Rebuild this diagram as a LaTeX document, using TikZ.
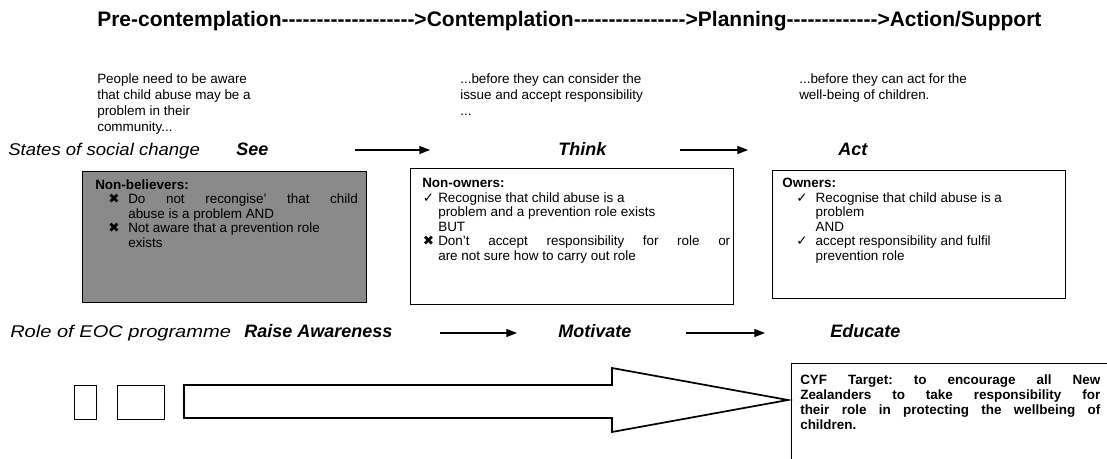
\documentclass[tikz,border=0pt]{standalone}
\usepackage{fontspec}
\setmainfont{Liberation Sans}
\newfontfamily\symfont{DejaVu Sans}
\usetikzlibrary{arrows.meta}
\frenchspacing
\definecolor{boxgray}{RGB}{138,138,138}
\newcommand\hy{\hbox{-}}
\newcount\hycnt
\newcommand\hys[1]{\hycnt=#1\relax\loop\hy\advance\hycnt by -1 \ifnum\hycnt>0 \repeat}
\newcommand\nl{\hfil\break}
\newcommand\bul[4]{\par\hangindent=#2\hangafter=1\noindent\hbox to #2{\hspace{#3}{\symfont#1}\hfil}#4\par}
\newcommand\crossmark{\char"2716}
\newcommand\tickmark{\char"2713}
\newcommand\wide[2]{\scalebox{#1}[1]{#2}}
\tikzset{
  titletext/.style={anchor=base west, inner sep=0pt, font=\fontsize{15.75}{18}\selectfont\bfseries},
  para/.style={anchor=north west, inner sep=0pt, align=left, font=\fontsize{10.1}{12}\selectfont},
  rowlabel/.style={anchor=base west, inner sep=0pt, font=\fontsize{12.75}{14}\selectfont\itshape},
  stage/.style={anchor=base west, inner sep=0pt, font=\fontsize{13.5}{15}\selectfont\bfseries\itshape},
  flow/.style={-{Triangle[length=8pt,width=6pt]}, line width=0.9pt},
  boxframe/.style={draw, line width=0.9pt, anchor=north west, inner sep=0pt},
  boxtext/.style={anchor=north west, inner sep=0pt, align=justify, font=\fontsize{10.1}{10.9}\selectfont},
  smallrect/.style={draw, line width=1.1pt, anchor=north west, inner sep=0pt, minimum height=25.5pt},
}
\begin{document}
\begin{tikzpicture}[x=0.75pt,y=-0.75pt]
\useasboundingbox (0,0) rectangle (1107,459);
\fill[white] (0,0) rectangle (1107,459);

% title
\node[titletext] (ttl) at (97,27) {Pre-contemplation\hys{19}>Contemplation\hys{16}>Planning\hys{13}>Action/Support};

% explanatory paragraphs
\node[para] (p1) at (97,73) {People need to be aware\\that child abuse may be a\\problem in their\\community...};
\node[para] (p2) at (460,73) {...before they can consider the\\issue and accept responsibility\\...};
\node[para] (p3) at (799,73) {...before they can act for the\\well-being of children.};

% states row
\node[rowlabel] (lab1) at (8,156) {\wide{1.09}{States of social change}};
\node[stage] (see) at (236,156) {See};
\node[stage] (think) at (558,156) {Think};
\node[stage] (act) at (838,156) {Act};
\coordinate (a1s) at (355,150); \coordinate (a1e) at (430,150);
\coordinate (a2s) at (680,150); \coordinate (a2e) at (748,150);
\draw[flow] (a1s) -- (a1e);
\draw[flow] (a2s) -- (a2e);

% boxes
\node[boxframe, fill=boxgray, minimum width=213pt, minimum height=98.25pt] (box1) at (82,171) {};
\node[boxtext, text width=197pt] (t1) at (95,179) {\textbf{Non-believers:}
\bul{\crossmark}{24.75pt}{9.75pt}{Do not recongise' that child\linebreak abuse is a problem AND}
\bul{\crossmark}{24.75pt}{9.75pt}{Not aware that a prevention role\nl exists}};

\node[boxframe, minimum width=242.25pt, minimum height=102pt] (box2) at (410,168) {};
\node[boxtext, text width=231pt] (t2) at (422,178) {\textbf{Non-owners:}
\bul{\tickmark}{12pt}{0.5pt}{Recognise that child abuse is a\nl problem and a prevention role exists\nl BUT}
\bul{\crossmark}{12pt}{0.5pt}{Don't accept responsibility for role or\linebreak are not sure how to carry out role}};

\node[boxframe, minimum width=219.75pt, minimum height=96pt] (box3) at (772,170) {};
\node[boxtext, text width=205pt] (t3) at (782,178) {\textbf{Owners:}
\bul{\tickmark}{25pt}{10.5pt}{Recognise that child abuse is a\nl problem\nl AND}
\bul{\tickmark}{25pt}{10.5pt}{accept responsibility and fulfil\nl prevention role}};

% role row
\node[rowlabel] (lab2) at (10,338) {\wide{1.18}{Role of EOC programme}};
\node[stage] (raise) at (244,338) {Raise Awareness};
\node[stage] (motiv) at (558,338) {Motivate};
\node[stage] (educ) at (830,338) {Educate};
\coordinate (b1s) at (440,333); \coordinate (b1e) at (517,333);
\coordinate (b2s) at (686,333); \coordinate (b2e) at (765,333);
\draw[flow] (b1s) -- (b1e);
\draw[flow] (b2s) -- (b2e);

% bottom
\node[smallrect, minimum width=16.5pt] (r1) at (74,385) {};
\node[smallrect, minimum width=35.25pt] (r2) at (117,385) {};
\coordinate (s1) at (184,385); \coordinate (s2) at (612,385); \coordinate (h1) at (612,368);
\coordinate (tip) at (788,400); \coordinate (h2) at (612,432); \coordinate (s3) at (612,418);
\coordinate (s4) at (184,418);
\draw[line width=1.3pt, line join=miter] (s1) -- (s2) -- (h1) -- (tip) -- (h2) -- (s3) -- (s4) -- cycle;
\node[draw, line width=0.9pt, anchor=north west, inner sep=0pt, minimum width=250pt, minimum height=90pt] (target) at (791,363) {};
\node[boxtext, text width=225pt, font=\fontsize{10.1}{11.25}\selectfont\bfseries] (tt) at (800,374) {CYF Target: to encourage all New\linebreak Zealanders to take responsibility for\linebreak their role in protecting the wellbeing of\linebreak children.};
\end{tikzpicture}
\end{document}
